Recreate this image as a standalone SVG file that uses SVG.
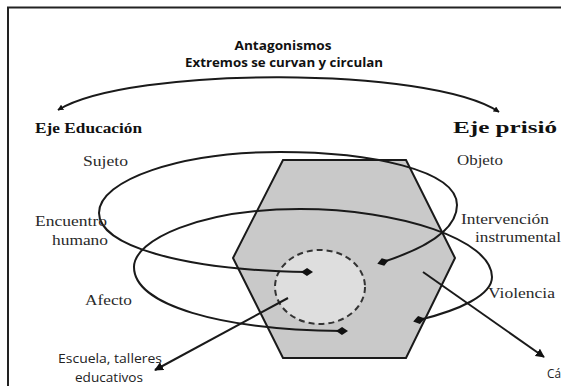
<svg xmlns="http://www.w3.org/2000/svg" width="561" height="386" viewBox="0 0 561 386">
<defs>
<style>
.serif{font-family:"Liberation Serif","Times New Roman",serif;font-size:15px;fill:#2a2a2a}
.bserif{font-family:"Liberation Serif","Times New Roman",serif;font-size:15px;font-weight:bold;fill:#111}
.sans{font-family:"Open Sans","Liberation Sans",sans-serif;font-size:12px;fill:#222}
.bsans{font-family:"Open Sans","Liberation Sans",sans-serif;font-size:13px;font-weight:bold;fill:#111}
.ln{fill:none;stroke:#1a1a1a;stroke-width:2}
</style>
<marker id="arr" viewBox="0 0 10 10" refX="9" refY="5" markerWidth="6" markerHeight="6" orient="auto-start-reverse" markerUnits="userSpaceOnUse">
<path d="M0,0 L10,5 L0,10 z" fill="#111"/>
</marker>
<marker id="arrS" viewBox="0 0 10 10" refX="9" refY="5" markerWidth="9" markerHeight="9" orient="auto-start-reverse" markerUnits="userSpaceOnUse">
<path d="M0,0 L10,5 L0,10 z" fill="#111"/>
</marker>
<marker id="dia" viewBox="0 0 12 8" refX="6" refY="4" markerWidth="12" markerHeight="8" orient="auto" markerUnits="userSpaceOnUse">
<path d="M0,4 L6,0 L12,4 L6,8 z" fill="#111"/>
</marker>
</defs>
<rect width="561" height="386" fill="#fff"/>
<g id="frame">
<path d="M7,7.5 H561 M8,7 V386" fill="none" stroke="#222" stroke-width="2"/>
</g>
<g id="title">
<text class="bsans" x="283" y="50" text-anchor="middle" textLength="97" lengthAdjust="spacingAndGlyphs">Antagonismos</text>
<text class="bsans" x="284" y="67" text-anchor="middle" textLength="198" lengthAdjust="spacingAndGlyphs">Extremos se curvan y circulan</text>
</g>
<g id="hexagon">
<polygon points="283,160 406,160 455,258 406,358 283,358 233,258" fill="#c9c9c9" stroke="#1a1a1a" stroke-width="2"/>
</g>
<g id="core">
<ellipse cx="320" cy="287" rx="45" ry="37" fill="#dedede" stroke="#333" stroke-width="2" stroke-dasharray="6,4"/>
</g>
<g id="connectors">
<path class="ln" d="M58,110 C130,66 430,66 499,112" marker-start="url(#arr)" marker-end="url(#arr)"/>
<path class="ln" d="M383,262 C420,250 457,232 457,205 C457,170 370,152 280,152 C180,152 99,180 99,213 C99,245 180,270 307,272" marker-start="url(#dia)" marker-end="url(#dia)"/>
<path class="ln" d="M419,320 C460,310 492,295 492,277 C492,240 400,209 300,209 C200,209 134,240 134,267 C134,305 220,330 342,331" marker-start="url(#dia)" marker-end="url(#dia)"/>
<line class="ln" x1="288" y1="298" x2="155" y2="370" marker-end="url(#arrS)"/>
<line class="ln" x1="423" y1="272" x2="544" y2="357" marker-end="url(#arrS)"/>
</g>
<g id="left-labels">
<text class="bserif" x="35" y="133" textLength="107" lengthAdjust="spacingAndGlyphs">Eje Educación</text>
<text class="serif" x="83" y="166" textLength="45" lengthAdjust="spacingAndGlyphs">Sujeto</text>
<text class="serif" x="35" y="226" textLength="72" lengthAdjust="spacingAndGlyphs">Encuentro</text>
<text class="serif" x="52" y="245" textLength="56" lengthAdjust="spacingAndGlyphs">humano</text>
<text class="serif" x="85" y="305" textLength="47" lengthAdjust="spacingAndGlyphs">Afecto</text>
<text class="sans" x="110" y="363" text-anchor="middle" textLength="104" lengthAdjust="spacingAndGlyphs">Escuela, talleres</text>
<text class="sans" x="109" y="382" text-anchor="middle" textLength="68" lengthAdjust="spacingAndGlyphs">educativos</text>
</g>
<g id="right-labels">
<text class="bserif" x="453" y="133" textLength="104" lengthAdjust="spacingAndGlyphs" style="font-size:16px">Eje prisió</text>
<text class="serif" x="457" y="165" textLength="46" lengthAdjust="spacingAndGlyphs">Objeto</text>
<text class="serif" x="461" y="224" textLength="88" lengthAdjust="spacingAndGlyphs">Intervención</text>
<text class="serif" x="475" y="242" textLength="86" lengthAdjust="spacingAndGlyphs">instrumental</text>
<text class="serif" x="488" y="298" textLength="67" lengthAdjust="spacingAndGlyphs">Violencia</text>
<text class="sans" x="547" y="378" textLength="14" lengthAdjust="spacingAndGlyphs">Cá</text>
</g>
</svg>
